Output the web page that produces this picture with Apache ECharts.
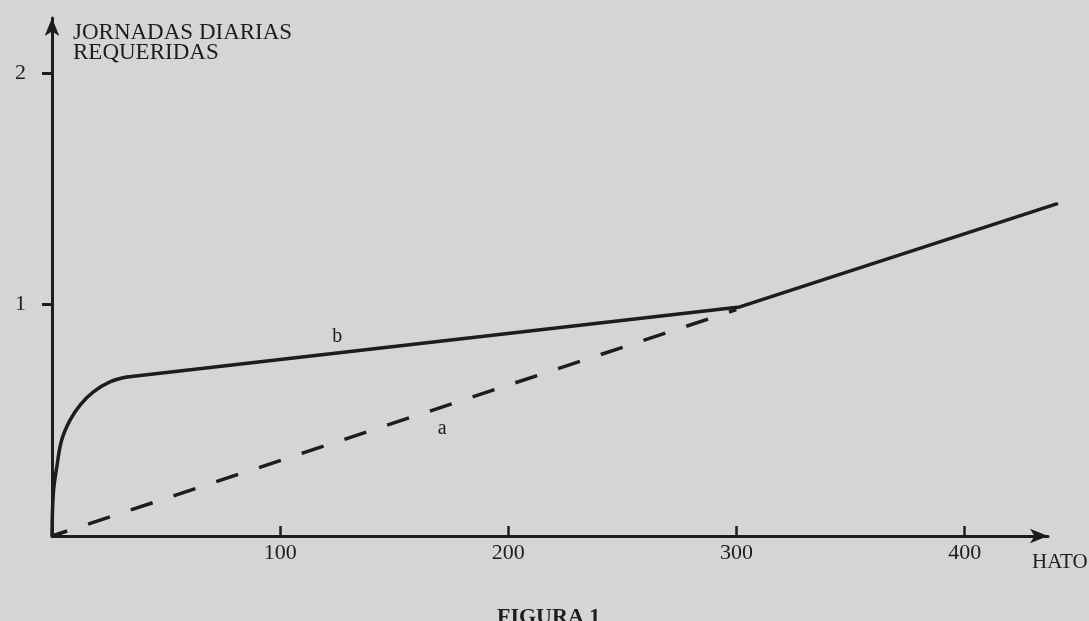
<!DOCTYPE html>
<html>
<head>
<meta charset="utf-8">
<script src="https://cdn.jsdelivr.net/npm/echarts@6/dist/echarts.min.js"></script>
<style>
  html, body { margin: 0; padding: 0; background: #d5d5d5; }
  #chart { width: 1089px; height: 621px; }
</style>
</head>
<body>
<div id="chart"></div>
<script>
// Axis ticks
const xTicks = [100, 200, 300, 400];
const yTicks = [1, 2];

// Curve b: steep initial rise (hato size vs. required daily work days)
const bCurveX = [0, 0.6, 2.1, 4.25, 7.9, 12.3, 18.0, 25.4, 32.9];
const bCurveY = [0, 0.186, 0.298, 0.415, 0.501, 0.566, 0.622, 0.666, 0.687];
// Curve b: straight segments after the bend
const bLineX = [32.9, 301.5, 440.4];
const bLineY = [0.687, 0.99, 1.435];
// Line a (dashed)
const aX = [0, 300];
const aY = [0, 0.978];

const labelB = [125, 0.86];
const labelA = [171, 0.465];

const ink = '#1d1d1d';
const serif = '"Liberation Serif", "DejaVu Serif", serif';

const zip = (xs, ys) => xs.map((x, i) => [x, ys[i]]);

const chart = echarts.init(document.getElementById('chart'));
chart.setOption({
  backgroundColor: '#d5d5d5',
  animation: false,
  title: {
    text: 'FIGURA 1',
    left: 497, top: 606, padding: 0,
    textStyle: { fontFamily: serif, fontSize: 22, fontWeight: 'bold', color: ink }
  },
  grid: [
    // data grid: wide enough for curve b to run past the arrow tip
    { left: 52, right: 31, top: 18, bottom: 85, containLabel: false, outerBoundsMode: 'none' },
    // axes grid: ends at the arrow tips
    { left: 52, right: 41, top: 18, bottom: 85, containLabel: false, outerBoundsMode: 'none' }
  ],
  xAxis: [
    { gridIndex: 0, type: 'value', min: 0, max: 441, show: false },
    {
      gridIndex: 1, type: 'value', min: 0, max: 436.5,
      name: 'HATO', nameLocation: 'end', nameGap: -16,
      nameTextStyle: { fontFamily: serif, fontSize: 21, color: ink, align: 'left', verticalAlign: 'top', padding: [16, 0, 0, 0] },
      axisLine: { show: true, onZero: false, symbol: ['none', 'arrow'], symbolSize: [11, 18], lineStyle: { color: ink, width: 3 } },
      axisTick: { show: true, inside: true, length: 10, customValues: xTicks, lineStyle: { color: ink, width: 2.5 } },
      axisLabel: { show: true, customValues: xTicks, margin: 6, fontFamily: serif, fontSize: 22, color: ink },
      splitLine: { show: false }
    }
  ],
  yAxis: [
    { gridIndex: 0, type: 'value', min: 0, max: 2.2385, show: false },
    {
      gridIndex: 1, type: 'value', min: 0, max: 2.2385,
      name: 'JORNADAS DIARIAS\nREQUERIDAS', nameLocation: 'end', nameGap: -5,
      nameTextStyle: { fontFamily: serif, fontSize: 23, lineHeight: 20, color: ink, align: 'left', verticalAlign: 'top', padding: [0, 0, 0, 21] },
      axisLine: { show: true, onZero: false, symbol: ['none', 'arrow'], symbolSize: [11, 18], lineStyle: { color: ink, width: 3 } },
      axisTick: { show: true, inside: false, length: 10, customValues: yTicks, lineStyle: { color: ink, width: 3 } },
      axisLabel: { show: true, customValues: yTicks, margin: 26, fontFamily: serif, fontSize: 22, color: ink },
      splitLine: { show: false }
    }
  ],
  series: [
    {
      name: 'b', type: 'line', xAxisIndex: 0, yAxisIndex: 0,
      data: zip(bCurveX, bCurveY), smooth: 0.4,
      showSymbol: false, clip: false,
      lineStyle: { color: ink, width: 3.5 }
    },
    {
      name: 'b ', type: 'line', xAxisIndex: 0, yAxisIndex: 0,
      data: zip(bLineX, bLineY),
      showSymbol: false, clip: false,
      lineStyle: { color: ink, width: 3.5, cap: 'round', join: 'round' },
      markPoint: {
        symbol: 'circle', symbolSize: 0,
        label: { show: true, formatter: 'b', fontFamily: serif, fontSize: 20, color: ink },
        data: [{ coord: labelB }]
      }
    },
    {
      name: 'a', type: 'line', xAxisIndex: 0, yAxisIndex: 0,
      data: zip(aX, aY),
      showSymbol: false, clip: false,
      lineStyle: { color: ink, width: 3.5, type: [23, 22], dashOffset: 7 },
      markPoint: {
        symbol: 'circle', symbolSize: 0,
        label: { show: true, formatter: 'a', fontFamily: serif, fontSize: 20, color: ink },
        data: [{ coord: labelA }]
      }
    }
  ]
});
</script>
</body>
</html>
